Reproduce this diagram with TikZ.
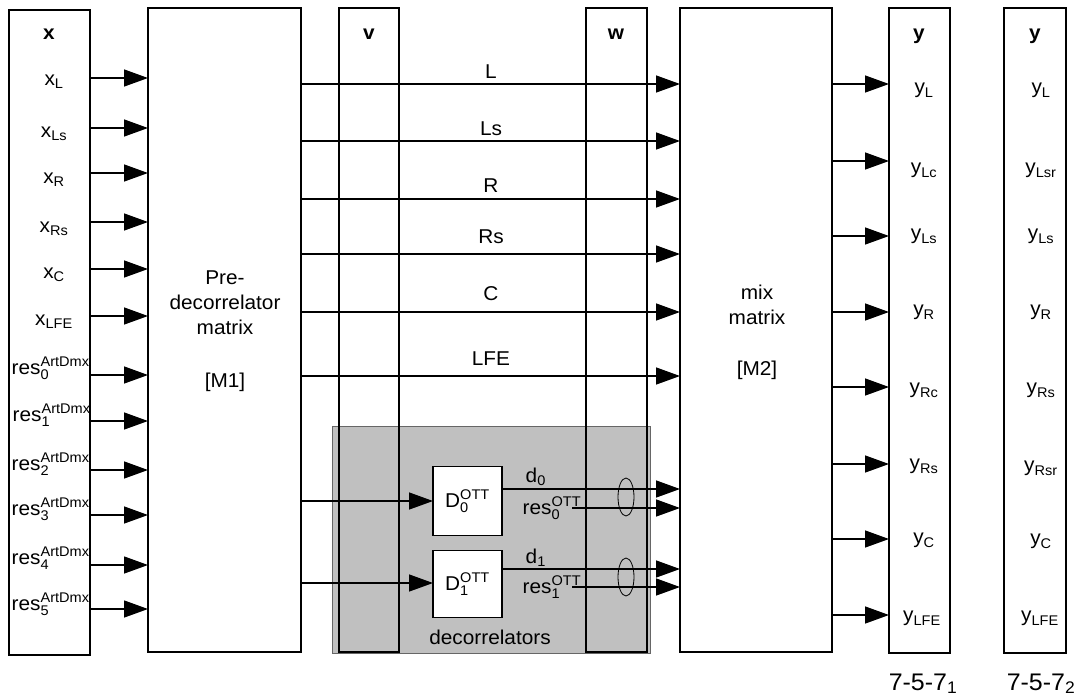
\documentclass[tikz,border=0pt]{standalone}
\usepackage{fontspec}
\setmainfont{Liberation Sans}[FakeStretch=1.04]
\usepackage{amsmath}
\usetikzlibrary{arrows.meta,shapes.geometric}

\definecolor{decgray}{HTML}{C0C0C0}

\tikzset{
  colbox/.style={draw, line width=1.4pt, inner sep=0pt, outer sep=0pt},
  decbox/.style={draw, fill=white, line width=1.4pt, inner sep=0pt, outer sep=0pt},
  bundle/.style={draw, ellipse, line width=0.8pt, inner sep=0pt, minimum width=16pt, minimum height=38pt},
  head/.style={anchor=base, font=\fontsize{20}{25}\selectfont\bfseries},
  sig/.style={anchor=base},
  cfg/.style={anchor=base, font=\fontsize{24}{28}\selectfont}
}

\begin{document}
\begin{tikzpicture}[x=1pt,y=-1pt,line width=1.4pt,
    >={Triangle[length=24pt,width=17pt]},
    every node/.style={font=\fontsize{20}{25}\selectfont}]

        \useasboundingbox (0,0) rectangle (1080,697);

        % ============================================
        % DECORRELATOR AREA (behind)
        % ============================================

        \node[fill=decgray, draw=black!60, line width=0.6pt, minimum width=318pt, minimum height=227pt, inner sep=0pt] (decarea) at (491,539.5) {};

        % ============================================
        % COLUMNS
        % ============================================

        \node[colbox, minimum width=81pt, minimum height=645pt] (xcol) at (49.5,332.5) {};
        \node[colbox, minimum width=153pt, minimum height=644pt] (pre) at (224.5,330) {};
        \node[colbox, minimum width=60pt, minimum height=644pt] (vcol) at (369,330) {};
        \node[colbox, minimum width=61pt, minimum height=644pt] (wcol) at (616.5,330) {};
        \node[colbox, minimum width=152pt, minimum height=644pt] (mix) at (756,330) {};
        \node[colbox, minimum width=61pt, minimum height=645pt] (ycolA) at (919.5,330.5) {};
        \node[colbox, minimum width=62pt, minimum height=645pt] (ycolB) at (1035,330.5) {};

        % Headers
        \node[head] (xhead) at (49,39) {x};
        \node[head] (vhead) at (369,39) {v};
        \node[head] (whead) at (616,39) {w};
        \node[head] (yheadA) at (919,39) {y};
        \node[head] (yheadB) at (1035,39) {y};

        % Matrix texts
        \node[align=center] (pretext) at (225,303) {Pre-\\decorrelator\\matrix};
        \node (mone) at (225,382) {[M1]};
        \node[align=center] (mixtext) at (757,305) {mix\\matrix};
        \node (mtwo) at (757,370) {[M2]};

        % ============================================
        % INPUT SIGNALS x
        % ============================================

        \node[sig] (xL) at (54,85) {$\text{x}_\text{L}$};
        \node[sig] (xLs) at (54,137) {$\text{x}_\text{Ls}$};
        \node[sig] (xR) at (54,183) {$\text{x}_\text{R}$};
        \node[sig] (xRs) at (54,232) {$\text{x}_\text{Rs}$};
        \node[sig] (xC) at (54,278) {$\text{x}_\text{C}$};
        \node[sig] (xLFE) at (54,325) {$\text{x}_\text{LFE}$};
        \node[anchor=base west, inner sep=0pt] (res0) at (11,374) {$\text{res}_\text{0}^\text{ArtDmx}$};
        \node[anchor=base west, inner sep=0pt] (res1) at (12,421) {$\text{res}_\text{1}^\text{ArtDmx}$};
        \node[anchor=base west, inner sep=0pt] (res2) at (11,470) {$\text{res}_\text{2}^\text{ArtDmx}$};
        \node[anchor=base west, inner sep=0pt] (res3) at (11,515) {$\text{res}_\text{3}^\text{ArtDmx}$};
        \node[anchor=base west, inner sep=0pt] (res4) at (11,564) {$\text{res}_\text{4}^\text{ArtDmx}$};
        \node[anchor=base west, inner sep=0pt] (res5) at (11,610) {$\text{res}_\text{5}^\text{ArtDmx}$};

        % Input arrows
        \draw[->] (xcol.east |- 0,78) -- (pre.west |- 0,78);
        \draw[->] (xcol.east |- 0,128) -- (pre.west |- 0,128);
        \draw[->] (xcol.east |- 0,173) -- (pre.west |- 0,173);
        \draw[->] (xcol.east |- 0,222) -- (pre.west |- 0,222);
        \draw[->] (xcol.east |- 0,269) -- (pre.west |- 0,269);
        \draw[->] (xcol.east |- 0,316) -- (pre.west |- 0,316);
        \draw[->] (xcol.east |- 0,375) -- (pre.west |- 0,375);
        \draw[->] (xcol.east |- 0,421) -- (pre.west |- 0,421);
        \draw[->] (xcol.east |- 0,470) -- (pre.west |- 0,470);
        \draw[->] (xcol.east |- 0,515) -- (pre.west |- 0,515);
        \draw[->] (xcol.east |- 0,565) -- (pre.west |- 0,565);
        \draw[->] (xcol.east |- 0,609) -- (pre.west |- 0,609);

        % ============================================
        % DIRECT CHANNELS v -> w
        % ============================================

        \node[sig] (chL) at (491,78) {L};
        \node[sig] (chLs) at (491,135) {Ls};
        \node[sig] (chR) at (491,192) {R};
        \node[sig] (chRs) at (491,243) {Rs};
        \node[sig] (chC) at (491,300) {C};
        \node[sig] (chLFE) at (491,365) {LFE};

        \draw[->] (pre.east |- 0,84) -- (mix.west |- 0,84);
        \draw[->] (pre.east |- 0,141) -- (mix.west |- 0,141);
        \draw[->] (pre.east |- 0,199) -- (mix.west |- 0,199);
        \draw[->] (pre.east |- 0,254) -- (mix.west |- 0,254);
        \draw[->] (pre.east |- 0,312) -- (mix.west |- 0,312);
        \draw[->] (pre.east |- 0,376) -- (mix.west |- 0,376);

        % ============================================
        % DECORRELATORS
        % ============================================

        \node[decbox, minimum width=69pt, minimum height=69pt] (D0) at (467.5,501) {$\text{D}_\text{0}^\text{OTT}$};
        \node[decbox, minimum width=69pt, minimum height=67pt] (D1) at (467.5,584) {$\text{D}_\text{1}^\text{OTT}$};
        \node (declabel) at (490,637) {decorrelators};

        % Inputs
        \draw[->] (pre.east |- 0,501) -- (D0.west |- 0,501);
        \draw[->] (pre.east |- 0,583) -- (D1.west |- 0,583);

        % Outputs
        \node[anchor=base west, inner sep=0pt] (d0) at (525,482) {$\text{d}_\text{0}$};
        \node[anchor=base west, inner sep=0pt] (r0) at (522,514) {$\text{res}_\text{0}^\text{OTT}$};
        \node[anchor=base west, inner sep=0pt] (d1) at (525,563) {$\text{d}_\text{1}$};
        \node[anchor=base west, inner sep=0pt] (r1) at (522,593) {$\text{res}_\text{1}^\text{OTT}$};
        \coordinate (r0s) at (572,508);
        \coordinate (r1s) at (572,587);

        \draw[->] (D0.east |- 0,489) -- (mix.west |- 0,489);
        \draw[->] (r0s) -- (mix.west |- r0s);
        \draw[->] (D1.east |- 0,569) -- (mix.west |- 0,569);
        \draw[->] (r1s) -- (mix.west |- r1s);

        % Bundles
        \node[bundle] (bun0) at (626,497) {};
        \node[bundle] (bun1) at (626,577) {};

        % ============================================
        % OUTPUT SIGNALS y
        % ============================================

        \draw[->] (mix.east |- 0,84) -- (ycolA.west |- 0,84);
        \draw[->] (mix.east |- 0,161) -- (ycolA.west |- 0,161);
        \draw[->] (mix.east |- 0,236) -- (ycolA.west |- 0,236);
        \draw[->] (mix.east |- 0,312) -- (ycolA.west |- 0,312);
        \draw[->] (mix.east |- 0,387) -- (ycolA.west |- 0,387);
        \draw[->] (mix.east |- 0,464) -- (ycolA.west |- 0,464);
        \draw[->] (mix.east |- 0,539) -- (ycolA.west |- 0,539);
        \draw[->] (mix.east |- 0,615) -- (ycolA.west |- 0,615);

        % First configuration
        \node[sig] (yAL) at (924,93) {$\text{y}_\text{L}$};
        \node[sig] (yALc) at (924,173) {$\text{y}_\text{Lc}$};
        \node[sig] (yALs) at (924,239) {$\text{y}_\text{Ls}$};
        \node[sig] (yAR) at (924,315) {$\text{y}_\text{R}$};
        \node[sig] (yARc) at (924,393) {$\text{y}_\text{Rc}$};
        \node[sig] (yARs) at (924,469) {$\text{y}_\text{Rs}$};
        \node[sig] (yAC) at (924,543) {$\text{y}_\text{C}$};
        \node[sig] (yALFE) at (922,621) {$\text{y}_\text{LFE}$};

        % Second configuration
        \node[sig] (yBL) at (1041,93) {$\text{y}_\text{L}$};
        \node[sig] (yBLsr) at (1041,173) {$\text{y}_\text{Lsr}$};
        \node[sig] (yBLs) at (1041,239) {$\text{y}_\text{Ls}$};
        \node[sig] (yBR) at (1041,315) {$\text{y}_\text{R}$};
        \node[sig] (yBRs) at (1041,393) {$\text{y}_\text{Rs}$};
        \node[sig] (yBRsr) at (1041,471) {$\text{y}_\text{Rsr}$};
        \node[sig] (yBC) at (1041,544) {$\text{y}_\text{C}$};
        \node[sig] (yBLFE) at (1040,621) {$\text{y}_\text{LFE}$};

        % Bottom labels
        \node[cfg] (cfgA) at (923,690) {$\text{7-5-7}_\text{1}$};
        \node[cfg] (cfgB) at (1041,690) {$\text{7-5-7}_\text{2}$};

    \end{tikzpicture}
\end{document}
